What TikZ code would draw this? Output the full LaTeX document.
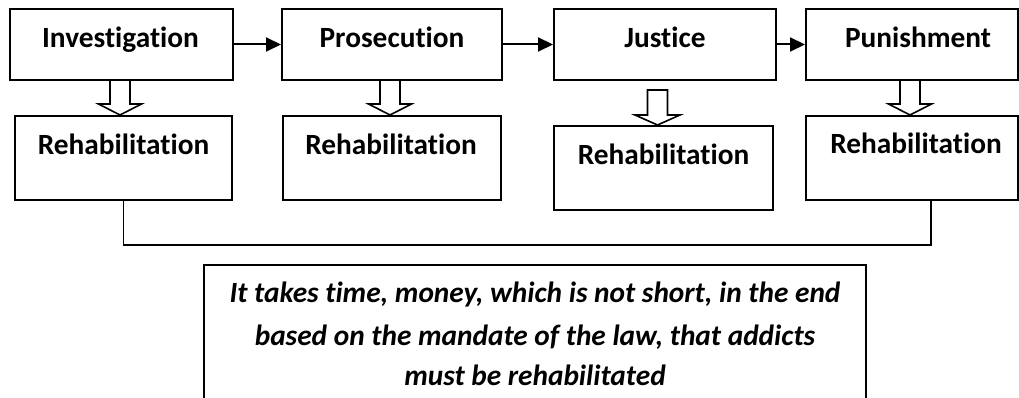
\documentclass[tikz,border=0pt]{standalone}
\usepackage{fontspec}
\setmainfont{Carlito}[Ligatures=NoCommon]
\usetikzlibrary{calc,arrows.meta}
\begin{document}
\begin{tikzpicture}[x=0.75pt,y=-0.75pt,
  box/.style={draw, line width=1.5pt, inner sep=0pt, anchor=north west},
  lbl/.style={font=\fontsize{22}{26}\selectfont\bfseries, inner sep=0pt, anchor=base},
  note/.style={font=\fontsize{22}{26}\selectfont\bfseries\itshape, inner sep=0pt, anchor=base},
  flow/.style={line width=1.5pt, -{Triangle[length=11.25pt,width=10.5pt]}},
  blk/.style={line width=1.2pt, line join=miter},
  link/.style={line width=1.2pt}]
\useasboundingbox (0,0) rectangle (1019,398);

% top row
\node[box, minimum width=167.25pt, minimum height=53.25pt] (inv) at (9,8) {};
\node[box, minimum width=165pt, minimum height=53.25pt] (pro) at (281,8) {};
\node[box, minimum width=166.5pt, minimum height=53.25pt] (jus) at (553,8) {};
\node[box, minimum width=159pt, minimum height=53.25pt] (pun) at (805,8) {};
% rehabilitation row
\node[box, minimum width=162.75pt, minimum height=63pt] (r1) at (14,115) {};
\node[box, minimum width=163.5pt, minimum height=63pt] (r2) at (282,115) {};
\node[box, minimum width=164.25pt, minimum height=63pt] (r3) at (553,125) {};
\node[box, minimum width=159pt, minimum height=63pt] (r4) at (805,115) {};
% note box
\node[box, minimum width=496.5pt, minimum height=105pt] (nb) at (203,264) {};

% labels
\node[lbl] (tinv) at ($(inv.north)+(-1,40)$) {Investigation};
\node[lbl] (tpro) at ($(pro.north)+(0,40)$) {Prosecution};
\node[lbl] (tjus) at ($(jus.north)+(0,40)$) {Justice};
\node[lbl] (tpun) at ($(pun.north)+(6,40)$) {Punishment};
\node[lbl] (tr1) at ($(r1.north)+(0,40)$) {Rehabilitation};
\node[lbl] (tr2) at ($(r2.north)+(-1,40)$) {Rehabilitation};
\node[lbl] (tr3) at ($(r3.north)+(0,40)$) {Rehabilitation};
\node[lbl] (tr4) at ($(r4.north)+(4,39)$) {Rehabilitation};

\node[note] (n1) at ($(nb.north)+(0,39)$) {It takes time, money, which is not short, in the end};
\node[note] (n2) at ($(nb.north)+(0,81)$) {based on the mandate of the law, that addicts};
\node[note] (n3) at ($(nb.north)+(0,121)$) {must be rehabilitated};

% flow arrows
\draw[flow] (inv.east) -- (pro.west);
\draw[flow] (pro.east) -- (jus.west);
\draw[flow] (jus.east) -- (pun.west);

% hollow block arrows
\draw[blk] ($(inv.south)+(-11.5,0)$) -- ($(inv.south |- r1.north)+(-11.5,-11)$) -- ++(-11.5,0)
  -- ($(inv.south |- r1.north)+(-1.5,0)$) -- ++(21.5,-11) -- ++(-11.5,0) -- ($(inv.south)+(8.5,0)$);
\draw[blk] ($(pro.south)+(-12,0)$) -- ($(pro.south |- r2.north)+(-12,-11)$) -- ++(-11.5,0)
  -- ($(pro.south |- r2.north)+(-2,0)$) -- ++(21.5,-11) -- ++(-11.5,0) -- ($(pro.south)+(8,0)$);
\draw[blk] ($(pun.south)+(-12,0)$) -- ($(pun.south |- r4.north)+(-12,-11)$) -- ++(-11.5,0)
  -- ($(pun.south |- r4.north)+(-2,0)$) -- ++(21.5,-11) -- ++(-11.5,0) -- ($(pun.south)+(8,0)$);
\coordinate (jt) at ($(jus.south |- r3.north)+(-7.5,0)$);
\draw[blk] ($(jt)+(-10,-35)$) -- ($(jt)+(-10,-10)$) -- ($(jt)+(-22.5,-10)$) -- (jt)
  -- ($(jt)+(22.5,-10)$) -- ($(jt)+(10,-10)$) -- ($(jt)+(10,-35)$) -- cycle;

% link between first and last rehabilitation boxes
\draw[link] (r1.south) -- ++(0,44) -| ($(r4.south)+(19,0)$);
\end{tikzpicture}
\end{document}
